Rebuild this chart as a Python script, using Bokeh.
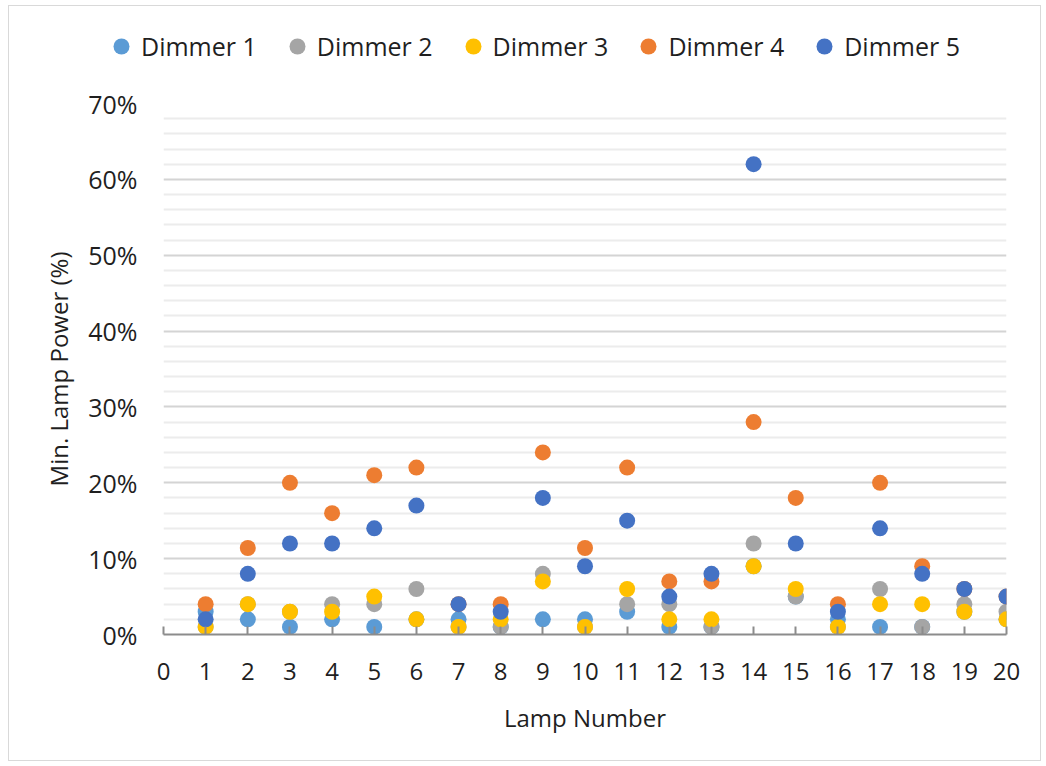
from bokeh.plotting import figure
from bokeh.layouts import column
from bokeh.models import (ColumnDataSource, Legend, LegendItem, NumeralTickFormatter,
                          FixedTicker, Range1d)
from bokeh.embed import file_html
from bokeh.resources import INLINE

# Minimum lamp power (%) per lamp for each dimmer
lamps = list(range(1, 21))
dimmer_1 = [3, 2, 1, 2, 1, 2, 2, 1, 2, 2, 3, 1, 1, 9, 5, 2, 1, 1, 3, 2]
dimmer_2 = [1, 4, 3, 4, 4, 6, 1, 1, 8, 1, 4, 4, 1, 12, 5, 1, 6, 1, 4, 3]
dimmer_3 = [1, 4, 3, 3, 5, 2, 1, 2, 7, 1, 6, 2, 2, 9, 6, 1, 4, 4, 3, 2]
dimmer_4 = [4, 11.4, 20, 16, 21, 22, 4, 4, 24, 11.4, 22, 7, 7, 28, 18, 4, 20, 9, 6, 5]
dimmer_5 = [2, 8, 12, 12, 14, 17, 4, 3, 18, 9, 15, 5, 8, 62, 12, 3, 14, 8, 6, 5]

series_names = ["Dimmer 1", "Dimmer 2", "Dimmer 3", "Dimmer 4", "Dimmer 5"]
series_values = [dimmer_1, dimmer_2, dimmer_3, dimmer_4, dimmer_5]
colors = ["#5B9BD5", "#A5A5A5", "#FFC000", "#ED7D31", "#4472C4"]
x_ticks = list(range(0, 21))
y_major_pct = [0, 10, 20, 30, 40, 50, 60, 70]
y_minor_pct = [v for v in range(0, 71, 2) if v % 10]

FONT = "Open Sans"
TEXT = "#1f1f1f"
W = 1031

# ---- main scatter chart ----
p = figure(width=W, height=682, output_backend="svg", toolbar_location=None,
           x_range=Range1d(0, 20), y_range=Range1d(0, 0.70),
           min_border_left=154, min_border_right=34, min_border_top=25, min_border_bottom=126)
p.frame_align = False
p.outline_line_color = None
p.background_fill_color = "white"
p.border_fill_color = "white"

# Grid: major every 10 %, minor every 2 %
p.xgrid.grid_line_color = None
p.ygrid.grid_line_color = "#d4d4d4"
p.ygrid.grid_line_width = 2
p.ygrid.minor_grid_line_color = "#ececec"
p.ygrid.minor_grid_line_width = 2

yaxis = p.yaxis[0]
yaxis.ticker = FixedTicker(ticks=[v / 100 for v in y_major_pct],
                           minor_ticks=[v / 100 for v in y_minor_pct])
yaxis.formatter = NumeralTickFormatter(format="0%")
yaxis.axis_line_color = None
yaxis.major_tick_line_color = None
yaxis.minor_tick_line_color = None
yaxis.major_label_standoff = 20
yaxis.major_label_text_font = FONT
yaxis.major_label_text_font_size = "25px"
yaxis.major_label_text_color = TEXT
yaxis.axis_label = "Min. Lamp Power (%)"
yaxis.axis_label_text_font = FONT
yaxis.axis_label_text_font_size = "24px"
yaxis.axis_label_text_font_style = "normal"
yaxis.axis_label_text_color = TEXT
yaxis.axis_label_standoff = 10

xaxis = p.xaxis[0]
xaxis.ticker = FixedTicker(ticks=x_ticks)
xaxis.axis_line_color = "#8c8c8c"
xaxis.axis_line_width = 2
xaxis.major_tick_line_color = "#8c8c8c"
xaxis.major_tick_line_width = 2
xaxis.major_tick_in = 8
xaxis.major_tick_out = 0
xaxis.minor_tick_line_color = None
xaxis.major_label_standoff = 28
xaxis.major_label_text_font = FONT
xaxis.major_label_text_font_size = "24px"
xaxis.major_label_text_color = TEXT
xaxis.axis_label = "Lamp Number"
xaxis.axis_label_text_font = FONT
xaxis.axis_label_text_font_size = "24px"
xaxis.axis_label_text_font_style = "normal"
xaxis.axis_label_text_color = TEXT
xaxis.axis_label_standoff = 18

# ---- legend strip above the chart (shares the series sources) ----
lg = figure(width=W, height=72, output_backend="svg", toolbar_location=None,
            x_range=Range1d(0, 1), y_range=Range1d(100, 101),
            x_axis_type=None, y_axis_type=None,
            min_border=0, min_border_left=0, min_border_right=0,
            min_border_top=0, min_border_bottom=0)
lg.frame_align = False
lg.outline_line_color = None
lg.grid.grid_line_color = None
lg.background_fill_color = "white"
lg.border_fill_color = "white"

items = []
for name, vals, col in zip(series_names, series_values, colors):
    src = ColumnDataSource(data=dict(x=lamps, y=[v / 100 for v in vals]))
    p.scatter("x", "y", source=src, size=16, marker="circle",
              fill_color=col, line_color=col, line_width=0)
    r = lg.scatter("x", "y", source=src, size=16, marker="circle",
                   fill_color=col, line_color=col, line_width=0)
    items.append(LegendItem(label=name, renderers=[r]))

legend = Legend(items=items, orientation="horizontal", location=(92, 12),
                glyph_width=40, glyph_height=40, label_standoff=0, spacing=20,
                padding=0, margin=0, border_line_color=None,
                background_fill_alpha=0,
                label_text_font=FONT, label_text_font_size="25px",
                label_text_color=TEXT)
lg.add_layout(legend, "center")

layout = column(lg, p, spacing=0)
layout.styles = {"margin-left": "8px", "margin-top": "5px", "border": "1px solid #d9d9d9"}

open("out.html", "w").write(file_html(layout, INLINE))
